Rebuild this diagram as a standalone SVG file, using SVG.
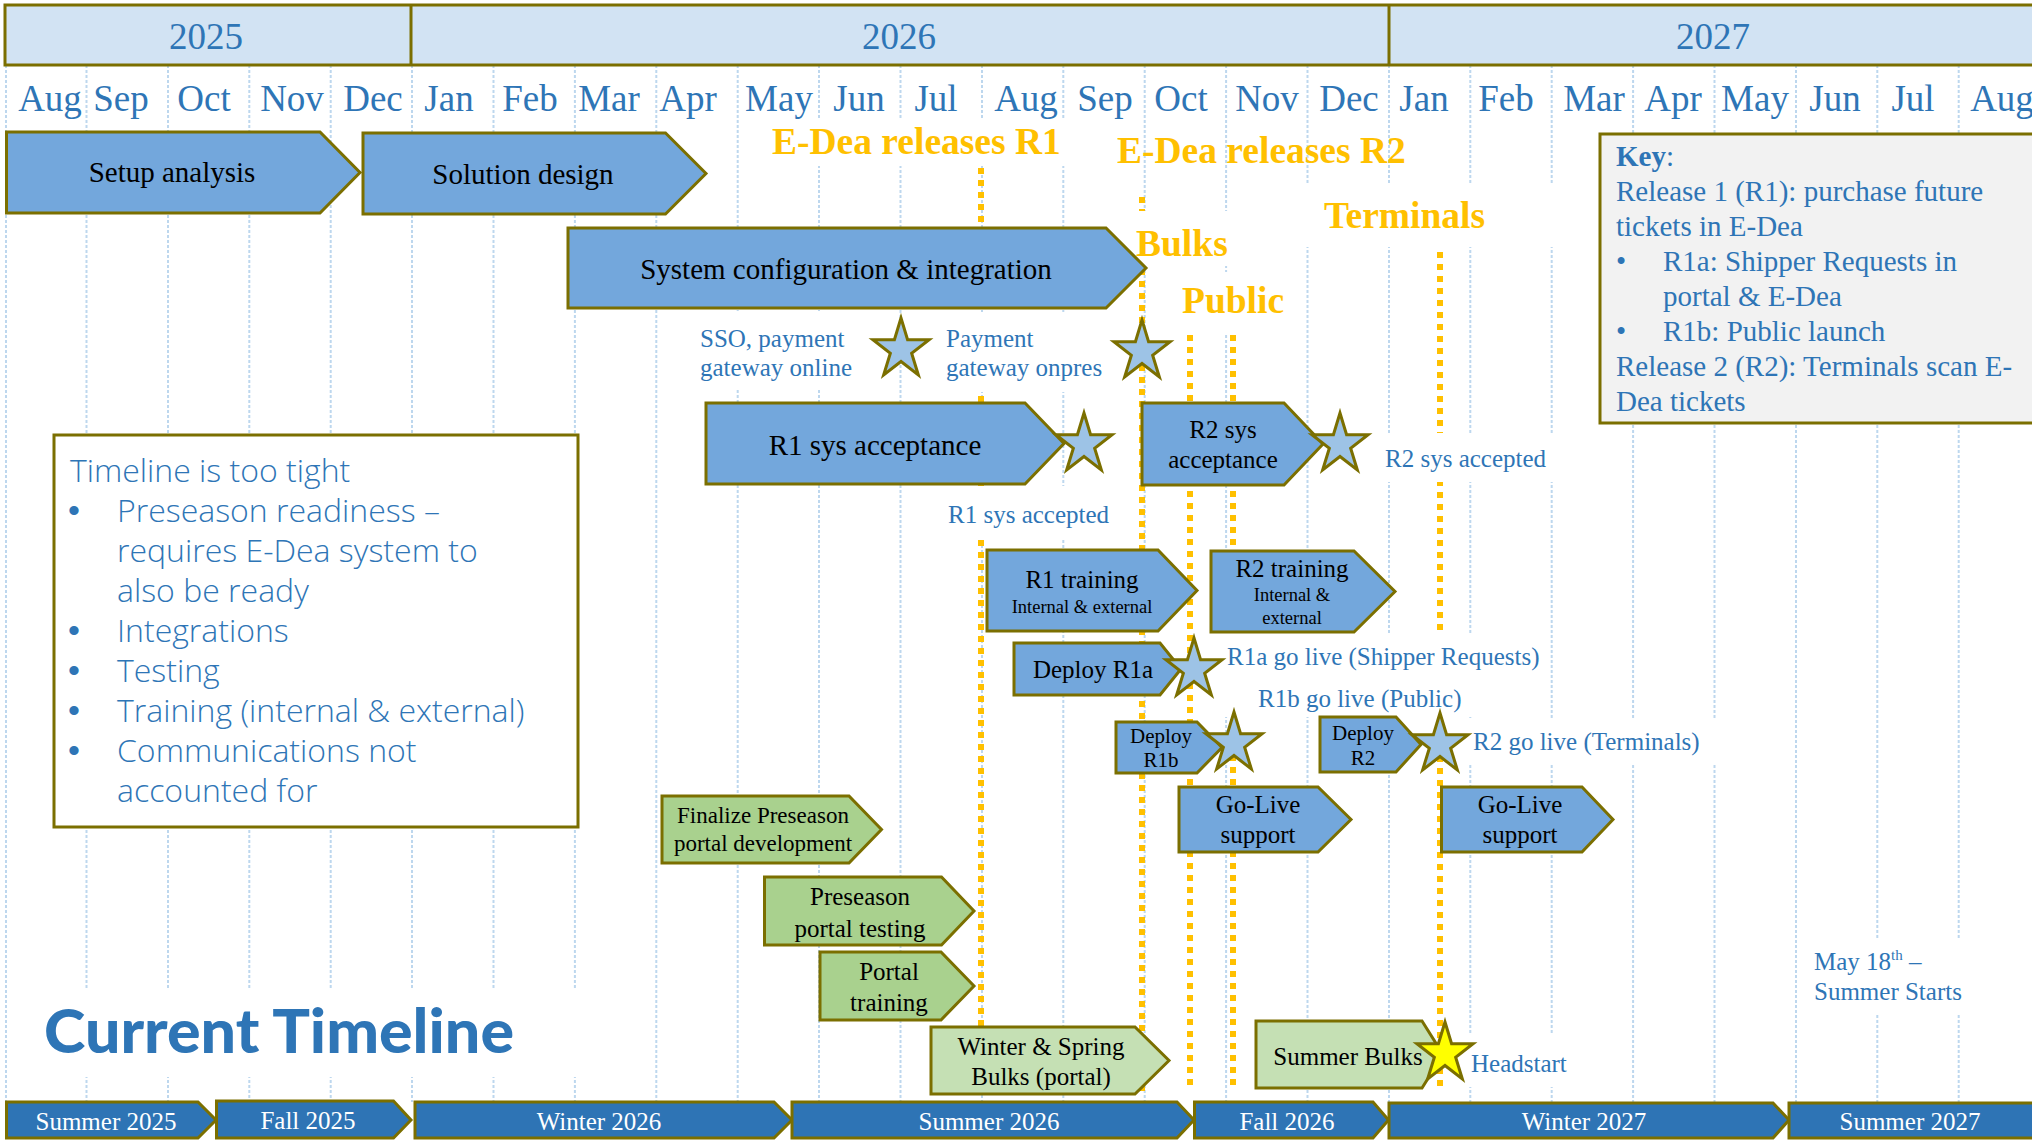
<svg xmlns="http://www.w3.org/2000/svg" width="2032" height="1140" viewBox="0 0 2032 1140">
<style>
.sf{font-family:"Liberation Serif","Times New Roman",serif}
.box{fill:#73A7DC;stroke:#7B6F00;stroke-width:3}
.g1{fill:#A9D18E;stroke:#7B6F00;stroke-width:3}
.g2{fill:#C5E0B4;stroke:#7B6F00;stroke-width:3}
.season{fill:#2E74B5;stroke:#7B6F00;stroke-width:3}
.star{fill:#9DC3E6;stroke:#7B6F00;stroke-width:3}
.ystar{fill:#FFFF00;stroke:#7B6F00;stroke-width:3}
.grid{stroke:#BDD7EE;stroke-width:2;stroke-dasharray:3 2;fill:none}
.yl{stroke:#FFC000;stroke-width:6;stroke-dasharray:6 6;fill:none}
.bg{fill:#FFFFFF}
.mon{font-family:"Liberation Serif","Times New Roman",serif;font-size:37px;fill:#2E75B6;text-anchor:middle}
.bt{font-family:"Liberation Serif","Times New Roman",serif;fill:#000;text-anchor:middle}
.ann{font-family:"Liberation Serif","Times New Roman",serif;font-size:25px;fill:#2E75B6}
.yt{font-family:"Liberation Serif","Times New Roman",serif;font-weight:bold;font-size:37.5px;fill:#FFC000}
.st{font-family:"Liberation Serif","Times New Roman",serif;font-size:25px;fill:#FFFFFF;text-anchor:middle}
.note{font-family:"Open Sans","Noto Sans",sans-serif;font-weight:300;font-size:32px;fill:#2E75B6}
.nb{font-family:"Liberation Sans",Arial,sans-serif;font-size:34px;fill:#2E75B6}
.key{font-family:"Liberation Serif","Times New Roman",serif;font-size:29px;fill:#2E75B6}
</style>
<defs>
<path id="star" d="M0,-31.5 L6.58,-9.71 L28.06,-9.73 L10.65,3.71 L17.34,25.48 L0,12 L-17.34,25.48 L-10.65,3.71 L-28.06,-9.73 L-6.58,-9.71 Z"/>
</defs>
<rect width="2032" height="1140" fill="#FFFFFF"/>

<g id="grid">
<path class="grid" d="M6,65V1102M86.5,65V1102M168,65V1102M249.3,65V1102M330.7,65V1102M412,65V1102M493.5,65V1102M574.9,65V1102M656.3,65V1102M737.7,65V1102M819,65V1102M900.5,65V1102M982,65V1102M1063.3,65V1102M1144.7,65V1102M1226.1,65V1102M1307.5,65V1102M1389,65V1102M1470.3,65V1102M1551.7,65V1102M1633.1,65V1102M1714.5,65V1102M1796,65V1102M1877.3,65V1102M1958.7,65V1102"/>
</g>

<g id="year-band">
<rect x="5" y="5" width="2040" height="60" fill="#D2E3F3" stroke="#7B6F00" stroke-width="3"/>
<line x1="411" y1="5" x2="411" y2="65" stroke="#7B6F00" stroke-width="3"/>
<line x1="1389" y1="5" x2="1389" y2="65" stroke="#7B6F00" stroke-width="3"/>
<text class="mon" x="206" y="49">2025</text>
<text class="mon" x="899" y="49">2026</text>
<text class="mon" x="1713" y="49">2027</text>
</g>

<g id="months">
<text class="mon" x="50" y="111">Aug</text>
<text class="mon" x="121" y="111">Sep</text>
<text class="mon" x="204" y="111">Oct</text>
<text class="mon" x="292" y="111">Nov</text>
<text class="mon" x="373" y="111">Dec</text>
<text class="mon" x="449" y="111">Jan</text>
<text class="mon" x="530" y="111">Feb</text>
<text class="mon" x="609" y="111">Mar</text>
<text class="mon" x="688" y="111">Apr</text>
<text class="mon" x="779" y="111">May</text>
<text class="mon" x="859" y="111">Jun</text>
<text class="mon" x="936" y="111">Jul</text>
<text class="mon" x="1026" y="111">Aug</text>
<text class="mon" x="1105" y="111">Sep</text>
<text class="mon" x="1181" y="111">Oct</text>
<text class="mon" x="1267" y="111">Nov</text>
<text class="mon" x="1349" y="111">Dec</text>
<text class="mon" x="1424" y="111">Jan</text>
<text class="mon" x="1506" y="111">Feb</text>
<text class="mon" x="1594" y="111">Mar</text>
<text class="mon" x="1673" y="111">Apr</text>
<text class="mon" x="1755" y="111">May</text>
<text class="mon" x="1835" y="111">Jun</text>
<text class="mon" x="1913" y="111">Jul</text>
<text class="mon" x="2002" y="111">Aug</text>
</g>

<g id="connectors">
<line class="yl" x1="981" y1="168" x2="981" y2="1095"/>
<line class="yl" x1="1142" y1="197" x2="1142" y2="1095"/>
<line class="yl" x1="1190" y1="335" x2="1190" y2="1085"/>
<line class="yl" x1="1233" y1="335" x2="1233" y2="1085"/>
<line class="yl" x1="1440" y1="252" x2="1440" y2="1087"/>
</g>

<g id="label-backgrounds">
<rect class="bg" x="765" y="120" width="300" height="46"/>
<rect class="bg" x="1130" y="211" width="105" height="55"/>
<rect class="bg" x="1175" y="272" width="123" height="61"/>
<rect class="bg" x="1300" y="183" width="260" height="64"/>
<rect class="bg" x="692" y="311" width="176" height="79"/>
<rect class="bg" x="938" y="312" width="174" height="80"/>
<rect class="bg" x="940" y="486" width="180" height="52"/>
<rect class="bg" x="1375" y="433" width="185" height="49"/>
<rect class="bg" x="1222" y="633" width="326" height="47"/>
<rect class="bg" x="1225" y="680" width="255" height="37"/>
<rect class="bg" x="1468" y="718" width="252" height="47"/>
<rect class="bg" x="1465" y="1035" width="95" height="52"/>
<rect class="bg" x="1800" y="938" width="160" height="77"/>
<rect class="bg" x="30" y="988" width="570" height="89"/>
</g>

<g id="setup-analysis"><path class="box" d="M6.5,132H320L360,172.5L320,213H6.5Z"/><text class="bt" font-size="29" x="172" y="182">Setup analysis</text></g>
<g id="solution-design"><path class="box" d="M363,133H665.5L706,173.5L665.5,214H363Z"/><text class="bt" font-size="29" x="523" y="184">Solution design</text></g>
<g id="system-config"><path class="box" d="M568,228H1106L1146,268L1106,308H568Z"/><text class="bt" font-size="29" x="846" y="279">System configuration &amp; integration</text></g>
<g id="r1-sys-acceptance"><path class="box" d="M706,403H1025L1064,443.5L1025,484H706Z"/><text class="bt" font-size="29" x="875" y="455">R1 sys acceptance</text></g>
<g id="r2-sys-acceptance"><path class="box" d="M1142,403H1284L1323,444L1284,485H1142Z"/><text class="bt" font-size="25" x="1223" y="438">R2 sys</text><text class="bt" font-size="25" x="1223" y="468">acceptance</text></g>
<g id="r1-training"><path class="box" d="M987,550H1158L1197,590.5L1158,631H987Z"/><text class="bt" font-size="25" x="1082" y="588">R1 training</text><text class="bt" font-size="18.5" x="1082" y="613">Internal &amp; external</text></g>
<g id="r2-training"><path class="box" d="M1211,551H1354L1395,591.5L1354,632H1211Z"/><text class="bt" font-size="25" x="1292" y="577">R2 training</text><text class="bt" font-size="18.5" x="1292" y="601">Internal &amp;</text><text class="bt" font-size="18.5" x="1292" y="624">external</text></g>
<g id="deploy-r1a"><path class="box" d="M1014,643H1160L1181,669L1160,695H1014Z"/><text class="bt" font-size="25" x="1093" y="678">Deploy R1a</text></g>
<g id="deploy-r1b"><path class="box" d="M1116,722H1197L1222,747.5L1197,773H1116Z"/><text class="bt" font-size="21" x="1161" y="743">Deploy</text><text class="bt" font-size="21" x="1161" y="767">R1b</text></g>
<g id="deploy-r2"><path class="box" d="M1320,717H1396L1421,744.5L1396,772H1320Z"/><text class="bt" font-size="21" x="1363" y="740">Deploy</text><text class="bt" font-size="21" x="1363" y="765">R2</text></g>
<g id="go-live-support-1"><path class="box" d="M1179,787H1318L1351,819.5L1318,852H1179Z"/><text class="bt" font-size="25" x="1258" y="813">Go-Live</text><text class="bt" font-size="25" x="1258" y="843">support</text></g>
<g id="go-live-support-2"><path class="box" d="M1441.5,787H1582L1613,819.5L1582,852H1441.5Z"/><text class="bt" font-size="25" x="1520" y="813">Go-Live</text><text class="bt" font-size="25" x="1520" y="843">support</text></g>
<g id="finalize-preseason"><path class="g1" d="M662,796H849L881.5,829.5L849,863H662Z"/><text class="bt" font-size="23" x="763" y="823">Finalize Preseason</text><text class="bt" font-size="23" x="763" y="851">portal development</text></g>
<g id="preseason-testing"><path class="g1" d="M764.5,877H941.5L974,911L941.5,945H764.5Z"/><text class="bt" font-size="25" x="860" y="905">Preseason</text><text class="bt" font-size="25" x="860" y="937">portal testing</text></g>
<g id="portal-training"><path class="g1" d="M820,952H941L974,986L941,1020H820Z"/><text class="bt" font-size="25" x="889" y="980">Portal</text><text class="bt" font-size="25" x="889" y="1011">training</text></g>
<g id="winter-spring-bulks"><path class="g2" d="M931,1027H1135L1169,1060.5L1135,1094H931Z"/><text class="bt" font-size="25" x="1041" y="1055">Winter &amp; Spring</text><text class="bt" font-size="25" x="1041" y="1085">Bulks (portal)</text></g>
<g id="summer-bulks"><path class="g2" d="M1256,1021H1422L1443,1054.5L1422,1088H1256Z"/><text class="bt" font-size="25" x="1348" y="1065">Summer Bulks</text></g>

<g id="stars">
<use href="#star" class="star" x="901" y="349.5"/>
<use href="#star" class="star" x="1142" y="351.5"/>
<use href="#star" class="star" x="1084" y="444.5"/>
<use href="#star" class="star" x="1340" y="444.5"/>
<use href="#star" class="star" x="1194" y="669.5"/>
<use href="#star" class="star" x="1234" y="743.5"/>
<use href="#star" class="star" x="1440" y="744.5"/>
<use href="#star" class="ystar" x="1445" y="1053.5"/>
</g>

<g id="release-labels">
<text class="yt" x="772" y="154">E-Dea releases R1</text>
<text class="yt" x="1117" y="163">E-Dea releases R2</text>
<text class="yt" x="1136" y="256">Bulks</text>
<text class="yt" x="1182" y="313">Public</text>
<text class="yt" x="1324" y="228">Terminals</text>
</g>

<g id="milestone-labels">
<text class="ann" x="700" y="347">SSO, payment</text>
<text class="ann" x="700" y="376">gateway online</text>
<text class="ann" x="946" y="347">Payment</text>
<text class="ann" x="946" y="376">gateway onpres</text>
<text class="ann" x="948" y="523">R1 sys accepted</text>
<text class="ann" x="1385" y="467">R2 sys accepted</text>
<text class="ann" x="1227" y="665">R1a go live (Shipper Requests)</text>
<text class="ann" x="1258" y="707">R1b go live (Public)</text>
<text class="ann" x="1473" y="750">R2 go live (Terminals)</text>
<text class="ann" x="1471" y="1072">Headstart</text>
<text class="ann" x="1814" y="970">May 18<tspan font-size="15" dy="-10">th</tspan><tspan dy="10"> –</tspan></text>
<text class="ann" x="1814" y="1000">Summer Starts</text>
</g>

<g id="key">
<rect x="1600" y="134" width="450" height="289" fill="#F2F2F2" stroke="#7B6F00" stroke-width="3"/>
<text class="key" x="1616" y="166"><tspan font-weight="bold">Key</tspan>:</text>
<text class="key" x="1616" y="201">Release 1 (R1): purchase future</text>
<text class="key" x="1616" y="236">tickets in E-Dea</text>
<text class="key" x="1616" y="271">•</text><text class="key" x="1663" y="271">R1a: Shipper Requests in</text>
<text class="key" x="1663" y="306">portal &amp; E-Dea</text>
<text class="key" x="1616" y="341">•</text><text class="key" x="1663" y="341">R1b: Public launch</text>
<text class="key" x="1616" y="376">Release 2 (R2): Terminals scan E-</text>
<text class="key" x="1616" y="411">Dea tickets</text>
</g>

<g id="timeline-note">
<rect x="54" y="435" width="524" height="392" fill="#FFFFFF" stroke="#7B6F00" stroke-width="3"/>
<text class="note" x="70" y="482">Timeline is too tight</text>
<text class="nb" x="68" y="522">•</text><text class="note" x="117" y="522">Preseason readiness –</text>
<text class="note" x="117" y="562">requires E-Dea system to</text>
<text class="note" x="117" y="602">also be ready</text>
<text class="nb" x="68" y="642">•</text><text class="note" x="117" y="642">Integrations</text>
<text class="nb" x="68" y="682">•</text><text class="note" x="117" y="682">Testing</text>
<text class="nb" x="68" y="722">•</text><text class="note" x="117" y="722">Training (internal &amp; external)</text>
<text class="nb" x="68" y="762">•</text><text class="note" x="117" y="762">Communications not</text>
<text class="note" x="117" y="802">accounted for</text>
</g>

<g id="title">
<text x="44" y="1053" font-family="Lato,'Open Sans',sans-serif" font-weight="900" font-size="60" fill="#2E75B6" textLength="470" lengthAdjust="spacingAndGlyphs">Current Timeline</text>
</g>

<g id="seasons">
<g id="summer-2025"><path class="season" d="M6.5,1102H198L216,1120L198,1138H6.5Z"/><text class="st" x="106" y="1130">Summer 2025</text></g>
<g id="fall-2025"><path class="season" d="M216.5,1101H393.5L411,1120L393.5,1138H216.5Z"/><text class="st" x="308" y="1129">Fall 2025</text></g>
<g id="winter-2026"><path class="season" d="M415,1102H774L792,1120L774,1138H415Z"/><text class="st" x="599" y="1130">Winter 2026</text></g>
<g id="summer-2026"><path class="season" d="M792,1102H1177L1194,1120L1177,1138H792Z"/><text class="st" x="989" y="1130">Summer 2026</text></g>
<g id="fall-2026"><path class="season" d="M1194.5,1102H1373L1388.5,1120L1373,1138H1194.5Z"/><text class="st" x="1287" y="1130">Fall 2026</text></g>
<g id="winter-2027"><path class="season" d="M1389,1103H1773L1789,1120L1773,1138H1389Z"/><text class="st" x="1584" y="1130">Winter 2027</text></g>
<g id="summer-2027"><path class="season" d="M1789,1103H2045V1138H1789Z"/><text class="st" x="1910" y="1130">Summer 2027</text></g>
</g>
</svg>
